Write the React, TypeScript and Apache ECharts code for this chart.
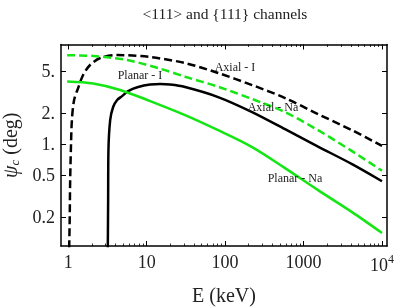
import React, { useEffect, useRef } from "react";
import * as echarts from "echarts";

const TITLE = "<111> and {111} channels";
const X_NAME = "E (keV)";

const X_MAJOR = [1, 10, 100, 1000, 10000];
const X_MINOR = [2, 3, 4, 5, 6, 7, 8, 9, 20, 30, 40, 50, 60, 70, 80, 90, 200, 300, 400, 500, 600, 700, 800, 900, 2000, 3000, 4000, 5000, 6000, 7000, 8000, 9000];
const Y_TICKS = [0.2, 0.5, 1, 2, 5];

const AXIAL_I_E = [1.03, 1.045, 1.06, 1.082, 1.115, 1.19, 1.34, 1.55, 1.9, 2.56, 4.2, 11, 31, 81.5, 221, 581, 1530, 4150, 10000];
const AXIAL_I_PSI = [0.1, 0.186, 0.45, 0.876, 1.7, 2.65, 3.46, 4.61, 5.75, 6.71, 7.17, 6.86, 6.0, 4.82, 3.69, 2.77, 1.94, 1.36, 0.96];

const AXIAL_NA_E = [0.97, 2.08, 5.64, 14.9, 30.9, 81.5, 221, 581, 1531, 4150, 10000];
const AXIAL_NA_PSI = [7.13, 7.02, 6.42, 5.3, 4.44, 3.56, 2.71, 2.03, 1.36, 0.856, 0.554];

const PLANAR_I_E = [3.2, 3.23, 3.26, 3.43, 3.74, 4.21, 4.87, 5.81, 7.8, 11.08, 14.9, 19.9, 30.9, 81.5, 221, 581, 1531, 4150, 10000];
const PLANAR_I_PSI = [0.1, 0.29, 0.875, 1.7, 2.27, 2.65, 2.89, 3.23, 3.53, 3.73, 3.77, 3.73, 3.53, 2.83, 2.03, 1.39, 0.946, 0.642, 0.44];

const PLANAR_NA_E = [0.97, 2.08, 4.6, 11.08, 30.9, 81.5, 221, 581, 1531, 4150, 10000];
const PLANAR_NA_PSI = [3.99, 3.82, 3.31, 2.59, 1.9, 1.36, 0.936, 0.588, 0.361, 0.222, 0.14];

const LABELS = ["Axial - I", "Planar - I", "Axial - Na", "Planar - Na"];

const zip = (a: number[], b: number[]) => a.map((v, i) => [v, b[i]]);

const SERIF = "Liberation Serif";
const GREEN = "#14e614";
const INK = "#222";

export default function App() {
  const ref = useRef<HTMLDivElement>(null);
  useEffect(() => {
    const chart = echarts.init(ref.current!, null, { renderer: "svg" });
    const xBase = {
      type: "log" as const,
      min: 0.81,
      max: 11580,
      gridIndex: 0,
      splitLine: { show: false },
    };
    const yBase = {
      type: "log" as const,
      min: 0.105,
      max: 9.05,
      gridIndex: 0,
      splitLine: { show: false },
    };
    const frameLine = { show: true, lineStyle: { color: "#000", width: 1.5 } };
    const lineCommon = { type: "line", showSymbol: false, smooth: 0.3 };
    const option: any = {
      animation: false,
      grid: { left: 61, right: 9, top: 44.5, bottom: 61, containLabel: false, outerBoundsMode: "none" },
      xAxis: [
        {
          ...xBase,
          position: "bottom",
          axisLine: frameLine,
          axisTick: { inside: true, length: 5, customValues: X_MAJOR, lineStyle: { color: "#000", width: 1 } },
          axisLabel: {
            customValues: X_MAJOR,
            margin: 7,
            fontFamily: SERIF,
            fontSize: 18,
            color: INK,
            formatter: (v: number) => (v >= 10000 ? "{b|10}{s|4}" : String(v)),
            rich: {
              b: { fontFamily: SERIF, fontSize: 18, color: INK },
              s: { fontFamily: SERIF, fontSize: 12, color: INK, padding: [0, 0, 11, 0] },
            },
          },
          name: X_NAME,
          nameLocation: "middle",
          nameGap: 39,
          nameTextStyle: { fontFamily: SERIF, fontSize: 20, color: INK },
        },
        {
          ...xBase,
          position: "bottom",
          axisLine: { show: false },
          axisTick: { inside: true, length: 2.5, customValues: X_MINOR, lineStyle: { color: "#000", width: 0.8 } },
          axisLabel: { show: false },
        },
        {
          ...xBase,
          position: "top",
          axisLine: frameLine,
          axisTick: { inside: true, length: 5, customValues: X_MAJOR, lineStyle: { color: "#000", width: 1 } },
          axisLabel: { show: false },
        },
        {
          ...xBase,
          position: "top",
          axisLine: { show: false },
          axisTick: { inside: true, length: 2.5, customValues: X_MINOR, lineStyle: { color: "#000", width: 0.8 } },
          axisLabel: { show: false },
        },
      ],
      yAxis: [
        {
          ...yBase,
          position: "left",
          axisLine: frameLine,
          axisTick: { inside: true, length: 5, customValues: Y_TICKS, lineStyle: { color: "#000", width: 1 } },
          axisLabel: {
            customValues: Y_TICKS,
            margin: 6,
            fontFamily: SERIF,
            fontSize: 18,
            color: INK,
            formatter: (v: number) => (v >= 1 ? Math.round(v) + "." : String(v)),
          },
          name: "{g|ψ}{c|c}{n| (deg)}",
          nameLocation: "middle",
          nameGap: 40,
          nameRotate: 90,
          nameTextStyle: {
            fontFamily: SERIF,
            fontSize: 20,
            color: INK,
            rich: {
              g: { fontFamily: SERIF, fontSize: 20, fontStyle: "italic", color: INK },
              c: { fontFamily: SERIF, fontSize: 13, fontStyle: "italic", color: INK, padding: [9, 0, 0, 0] },
              n: { fontFamily: SERIF, fontSize: 20, color: INK },
            },
          },
        },
        {
          ...yBase,
          position: "right",
          axisLine: frameLine,
          axisTick: { inside: true, length: 5, customValues: Y_TICKS, lineStyle: { color: "#000", width: 1 } },
          axisLabel: { show: false },
        },
      ],
      series: [
        { ...lineCommon, name: LABELS[0], data: zip(AXIAL_I_E, AXIAL_I_PSI), lineStyle: { color: "#000", width: 2.5, type: [8, 4] } },
        { ...lineCommon, name: LABELS[2], data: zip(AXIAL_NA_E, AXIAL_NA_PSI), lineStyle: { color: GREEN, width: 2.5, type: [8, 4] } },
        { ...lineCommon, name: LABELS[1], data: zip(PLANAR_I_E, PLANAR_I_PSI), lineStyle: { color: "#000", width: 2.5 } },
        { ...lineCommon, name: LABELS[3], data: zip(PLANAR_NA_E, PLANAR_NA_PSI), lineStyle: { color: GREEN, width: 2.5 } },
      ],
      graphic: [
        { type: "text", x: 225, y: 13, style: { text: TITLE, fontFamily: SERIF, fontSize: 15.5, fill: INK, textAlign: "center", textVerticalAlign: "middle" } },
        { type: "text", x: 235, y: 67, z: 10, style: { text: LABELS[0], fontFamily: SERIF, fontSize: 12, fill: INK, textAlign: "center", textVerticalAlign: "middle" } },
        { type: "text", x: 140, y: 75, z: 10, style: { text: LABELS[1], fontFamily: SERIF, fontSize: 12, fill: INK, textAlign: "center", textVerticalAlign: "middle" } },
        { type: "text", x: 273, y: 107, z: 10, style: { text: LABELS[2], fontFamily: SERIF, fontSize: 12, fill: INK, textAlign: "center", textVerticalAlign: "middle" } },
        { type: "text", x: 295, y: 178, z: 10, style: { text: LABELS[3], fontFamily: SERIF, fontSize: 12, fill: INK, textAlign: "center", textVerticalAlign: "middle" } },
      ],
    };
    chart.setOption(option);
    return () => chart.dispose();
  }, []);
  return <div ref={ref} style={{ position: "fixed", left: 0, top: 0, width: 396, height: 307 }} />;
}
